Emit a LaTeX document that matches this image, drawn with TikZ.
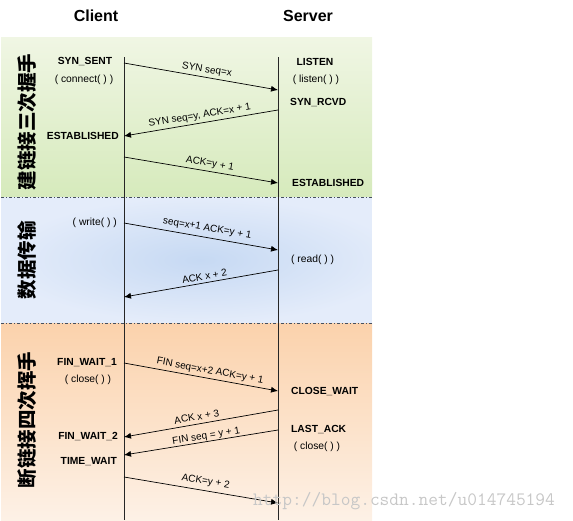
\documentclass[tikz,border=0pt]{standalone}
\usepackage{fontspec}
\setmainfont{Liberation Sans}
\newfontfamily\cjkfont{Noto Sans CJK SC}
\usepackage{xcolor}
\usepackage{tikz}
\usetikzlibrary{arrows.meta}
\definecolor{greentop}{RGB}{240,246,228}
\definecolor{greenbot}{RGB}{214,234,188}
\definecolor{bluein}{RGB}{198,217,243}
\definecolor{blueout}{RGB}{228,236,250}
\definecolor{orangetop}{RGB}{251,210,172}
\definecolor{orangebot}{RGB}{253,241,230}
\definecolor{sepcol}{RGB}{70,80,95}
\tikzset{
  titlebox/.style={font=\bfseries\fontsize{16}{18}\selectfont, inner sep=1pt},
  statebox/.style={font=\bfseries\fontsize{10.3}{12}\selectfont, inner sep=1pt},
  callbox/.style={font=\fontsize{10.3}{12}\selectfont, inner sep=1pt},
  phasebox/.style={rotate=90, font=\cjkfont\bfseries\fontsize{19.5}{20}\selectfont,
                   inner sep=1pt},
  msgarr/.style={-{Latex[length=7pt, width=6pt]}, line width=0.7pt, draw=black},
  msglabel/.style={sloped, above, inner sep=2.5pt,
                   font=\fontsize{10}{12}\selectfont},
  lifeline/.style={line width=0.7pt, draw=black!85},
  sepline/.style={draw=sepcol, line width=0.8pt,
                  dash pattern=on 3pt off 2pt on 1pt off 2pt},
  watermark/.style={font=\ttfamily\fontsize{18.9}{20}\selectfont, text=black!22,
                    inner sep=0pt},
}
\begin{document}
\begin{tikzpicture}[x=1pt, y=-1pt]
  \useasboundingbox (0,0) rectangle (573,520);

  %% Phase bands
  \fill[top color=greentop, bottom color=greenbot] (1,37) rectangle (372,197);
  \fill[inner color=bluein, outer color=blueout] (1,197) rectangle (400,323);
  \fill[white] (372,196) rectangle (401,324);
  \fill[top color=orangetop, bottom color=orangebot] (1,323) rectangle (372,520);
  \draw[sepline] (1,197) -- (372,197);
  \draw[sepline] (1,323) -- (372,323);

  %% Titles
  \node[titlebox] (client) at (96,16) {Client};
  \node[titlebox] (server) at (308,16) {Server};

  %% Phase labels
  \node[phasebox] (open)  at (27,122) {建链接三次握手};
  \node[phasebox] (data)  at (27,260) {数据传输};
  \node[phasebox] (close) at (27,420) {断链接四次挥手};

  %% Lifelines
  \coordinate (ctop) at (124,57);
  \coordinate (cbot) at (124,520);
  \coordinate (stop) at (278,57);
  \coordinate (sbot) at (278,520);
  \draw[lifeline] (ctop) -- (cbot);
  \draw[lifeline] (stop) -- (sbot);

  %% Points on the lifelines
  \coordinate (c1) at (124,63);  \coordinate (s1) at (278,90);
  \coordinate (s2) at (278,110); \coordinate (c2) at (124,136);
  \coordinate (c3) at (124,157); \coordinate (s3) at (278,183);
  \coordinate (c4) at (124,223); \coordinate (s4) at (278,250);
  \coordinate (s5) at (278,270); \coordinate (c5) at (124,297);
  \coordinate (c6) at (124,363); \coordinate (s6) at (278,391);
  \coordinate (s7) at (278,410); \coordinate (c7) at (124,437);
  \coordinate (s8) at (278,430); \coordinate (c8) at (124,455);
  \coordinate (c9) at (124,477); \coordinate (s9) at (278,503);

  %% Client states
  \node[statebox] (synsent)  at (85,62)  {SYN\_SENT};
  \node[callbox]  (connect)  at (84,80)  {( connect( ) )};
  \node[statebox, anchor=east] (estc) at (120,136) {ESTABLISHED};
  \node[callbox, anchor=east]  (write) at (118,223) {( write( ) )};
  \node[statebox] (finwait1) at (87,363) {FIN\_WAIT\_1};
  \node[callbox]  (closec)   at (88,380) {( close( ) )};
  \node[statebox, anchor=east] (finwait2) at (119,437) {FIN\_WAIT\_2};
  \node[statebox, anchor=east] (timewait) at (118,462) {TIME\_WAIT};

  %% Server states
  \node[statebox] (listen)   at (315,62)  {LISTEN};
  \node[callbox]  (listencall) at (316,80) {( listen( ) )};
  \node[statebox, anchor=west] (synrcvd) at (289,103) {SYN\_RCVD};
  \node[statebox, anchor=west] (ests)    at (291,183) {ESTABLISHED};
  \node[callbox, anchor=west]  (read)    at (290,260) {( read( ) )};
  \node[statebox, anchor=west] (closewait) at (290,392) {CLOSE\_WAIT};
  \node[statebox, anchor=west] (lastack)   at (290,430) {LAST\_ACK};
  \node[callbox]  (closes)   at (317,447) {( close( ) )};

  %% Messages
  \draw[msgarr] (c1) -- (s1) node[msglabel, pos=0.53] {SYN seq=x};
  \draw[msgarr] (s2) -- (c2) node[msglabel, pos=0.5] {SYN seq=y, ACK=x + 1};
  \draw[msgarr] (c3) -- (s3) node[msglabel, pos=0.55] {ACK=y + 1};
  \draw[msgarr] (c4) -- (s4) node[msglabel, pos=0.53, inner sep=4pt] {seq=x+1 ACK=y + 1};
  \draw[msgarr] (s5) -- (c5) node[msglabel, pos=0.47] {ACK x + 2};
  \draw[msgarr] (c6) -- (s6) node[msglabel, pos=0.55] {FIN seq=x+2 ACK=y + 1};
  \draw[msgarr] (s7) -- (c7) node[msglabel, pos=0.52, inner sep=3.5pt] {ACK x + 3};
  \draw[msgarr] (s8) -- (c8) node[msglabel, pos=0.46, inner sep=0.3pt] {FIN seq = y + 1};
  \draw[msgarr] (c9) -- (s9) node[msglabel, pos=0.52, inner sep=4pt] {ACK=y + 2};

  %% Watermark
  \node[watermark, anchor=base west] (mark) at (253,505) {http://blog.csdn.net/u014745194};

\end{tikzpicture}
\end{document}
